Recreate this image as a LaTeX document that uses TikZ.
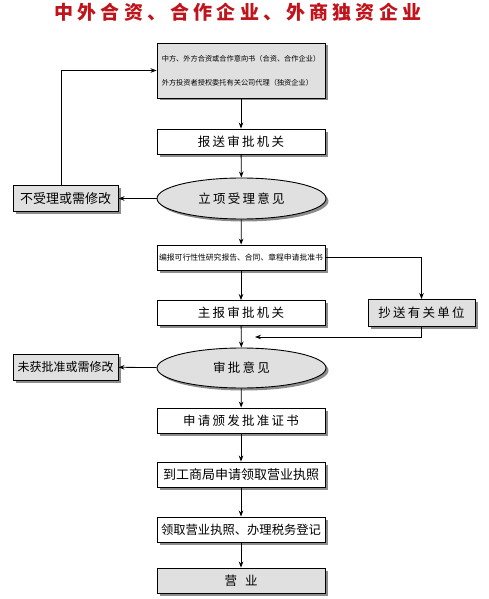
\documentclass[tikz,border=0pt]{standalone}
\usepackage{fontspec}
\usepackage{xcolor}
\usetikzlibrary{shapes.geometric,shadows,arrows.meta}
\newfontfamily\cjk{Noto Sans CJK SC}
\newfontfamily\cjkwide{Noto Sans CJK SC}[LetterSpace=18]
\newfontfamily\titlefont{Noto Sans CJK SC}[LetterSpace=22]
\definecolor{titlered}{HTML}{C0141C}
\definecolor{boxgray}{HTML}{E0E0E0}
\tikzset{
  shadowed/.style={drop shadow={shadow xshift=2.5pt, shadow yshift=-2.5pt, fill=black, opacity=0.45}},
  mainbox/.style={draw, fill=white, line width=0.9pt, minimum width=168pt, minimum height=25pt,
    inner sep=0pt, shadowed, font=\cjkwide\fontsize{12.5}{14}\selectfont},
  graybox/.style={mainbox, fill=boxgray},
  sidebox/.style={graybox, minimum width=105pt, minimum height=26pt, font=\cjk\fontsize{13}{15}\selectfont},
  verdict/.style={ellipse, draw, fill=boxgray, line width=0.9pt, minimum width=169pt, minimum height=41pt,
    inner sep=0pt, shadowed, font=\cjkwide\fontsize{12.5}{14}\selectfont},
  flow/.style={line width=0.8pt, -{Stealth[length=6pt,width=4.5pt]}}
}
\begin{document}
\begin{tikzpicture}[x=1pt,y=-1pt]
  \useasboundingbox [fill=white] (0,0) rectangle (488,599);

  \node [text=titlered, font=\titlefont\bfseries\fontsize{19}{21}\selectfont] (title) at (238,12) {中外合资、合作企业、外商独资企业};

  \node [graybox, minimum height=55pt, align=left, font=\cjk\fontsize{7.2}{24}\selectfont] (yixiang) at (241,70.5)
        {中方、外方合资或合作意向书（合资、合作企业）\\外方投资者授权委托有关公司代理（独资企业）};
  \node [mainbox]  (baosong)  at (241,141.5) {报送审批机关};
  \node [verdict]  (lixiang)  at (241.5,198.5) {立项受理意见};
  \node [sidebox]  (bushouli) at (65.5,198.5) {不受理或需修改};
  \node [mainbox, font=\cjk\fontsize{7.8}{9}\selectfont] (bianbao) at (241,257.5) {编报可行性性研究报告、合同、章程申请批准书};
  \node [mainbox]  (zhubao)   at (241,313)   {主报审批机关};
  \node [graybox, minimum width=107pt, minimum height=27pt] (chaosong) at (421.5,313) {抄送有关单位};
  \node [verdict, minimum height=40pt] (shenpi) at (241.5,368) {审批意见};
  \node [sidebox, font=\cjk\fontsize{12}{14}\selectfont] (weihuo) at (65.5,367) {未获批准或需修改};
  \node [mainbox]  (banfa)    at (241,420.5) {申请颁发批准证书};
  \node [mainbox, font=\cjk\fontsize{13}{15}\selectfont]   (gongshang) at (241,474.5) {到工商局申请领取营业执照};
  \node [mainbox, font=\cjk\fontsize{12.3}{14}\selectfont] (shuiwu)    at (241,529.5) {领取营业执照、办理税务登记};
  \node [graybox]  (yingye)   at (241,580.5) {营\hspace{8pt}业};
  \coordinate (huihe) at (255,337);

  \draw [flow] (yixiang) -- (baosong);
  \draw [flow] (baosong) -- (lixiang);
  \draw [flow] (lixiang) -- (bushouli);
  \draw [flow] ([xshift=-4pt]bushouli.north) |- (yixiang.west);
  \draw [flow] (lixiang) -- (bianbao);
  \draw [flow] (bianbao) -- (zhubao);
  \draw [flow] (bianbao.east) -| (chaosong.north);
  \draw [flow] (chaosong.south) |- (huihe);
  \draw [flow] (zhubao) -- (shenpi);
  \draw [flow] (shenpi) -- (weihuo);
  \draw [flow] (shenpi) -- (banfa);
  \draw [flow] (banfa) -- (gongshang);
  \draw [flow] (gongshang) -- (shuiwu);
  \draw [flow] (shuiwu) -- (yingye);
\end{tikzpicture}
\end{document}
